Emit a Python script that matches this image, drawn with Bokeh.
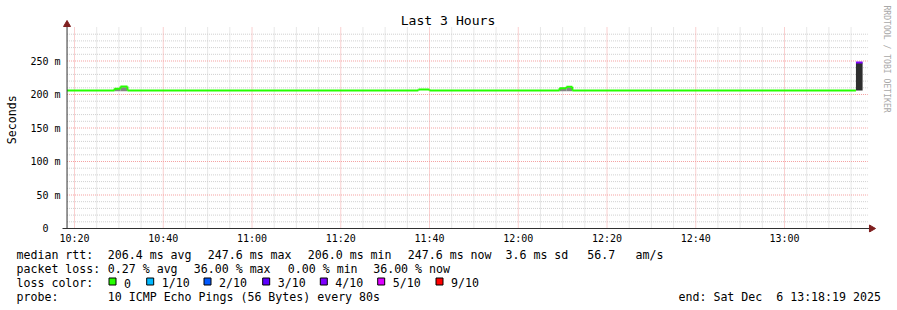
import math
from bokeh.plotting import figure
from bokeh.layouts import column, row
from bokeh.models import Range1d, FixedTicker
from bokeh.core.properties import value
from bokeh.embed import file_html
from bokeh.resources import INLINE

FONT = "DejaVu Sans Mono"

# ---------------- data (time = minutes after 10:00, values in ms) ----------------
window_start = 18.32    # 10:18:19
window_end = 198.32     # 13:18:19
y_top = 300.0

run_start = [18.32, 29.0, 30.35, 31.95, 97.5, 100.0, 129.3, 130.85, 132.2, 196.1]
run_end = [29.0, 30.35, 31.95, 97.5, 100.0, 129.3, 130.85, 132.2, 196.1, 197.6]
run_median_ms = [206.0, 208.7, 212.0, 206.0, 207.5, 206.0, 209.4, 211.5, 206.0, 247.6]
run_loss_pct = [0, 0, 0, 0, 0, 0, 0, 0, 0, 36.0]

smoke_start = [29.0, 30.35, 129.3, 130.85, 196.1]
smoke_end = [30.35, 31.95, 130.85, 132.2, 197.6]
smoke_lo_ms = [205.0, 205.0, 205.0, 205.0, 206.0]
smoke_hi_ms = [209.5, 211.0, 210.0, 211.0, 247.6]
smoke_loss_pct = [0, 0, 0, 0, 36.0]

x_tick_values = [20, 40, 60, 80, 100, 120, 140, 160, 180]
x_tick_labels = ["10:20", "10:40", "11:00", "11:20", "11:40", "12:00", "12:20", "12:40", "13:00"]
y_tick_values = [0, 50, 100, 150, 200, 250]
y_tick_labels = ["0\u00a0\u00a0", "50 m", "100 m", "150 m", "200 m", "250 m"]

pings = 10
loss_levels = [0, 1, 2, 3, 4, 5, 9]
loss_labels = ["0", "1/10", "2/10", "3/10", "4/10", "5/10", "9/10"]
loss_colors = ["#26ff00", "#00b8ff", "#0059ff", "#5e00ff", "#7e00ff", "#dd00ff", "#ff0000"]

median_avg, median_max, median_min, median_now, median_sd, median_ams = 206.4, 247.6, 206.0, 247.6, 3.6, 56.7
loss_avg, loss_max, loss_min, loss_now = 0.27, 36.00, 0.00, 36.00
probe_text = "10 ICMP Echo Pings (56 Bytes) every 80s"
end_text = "end: Sat Dec \u00a06 13:18:19 2025"
title_text = "Last 3 Hours"
y_label = "Seconds"
watermark = "RRDTOOL / TOBI OETIKER"


def loss_color(pct):
    lost = pct / 100.0 * pings
    for lvl, col in zip(loss_levels, loss_colors):
        if lost <= lvl:
            return col
    return loss_colors[-1]


# ---------------- layout (canvas pixels) ----------------
W, H = 897, 310
STRIP_W = 20                 # left strip holding the y label
FL, FR, FT, FB = 61, 897, 0, 232   # main frame edges (canvas px)
MAIN_H = 246
LEG_H = H - MAIN_H
PX_PER_MIN = 4.4375
X0PX = 74.0                  # pixel of 10:20
Y0PX = 228.0                 # pixel of 0 ms
PX_PER_MS = 0.67


def mx(px):
    return 20 + (px - X0PX) / PX_PER_MIN


def my(py):
    return (Y0PX - py) / PX_PER_MS


def blank(fig):
    fig.background_fill_color = "white"
    fig.border_fill_color = "white"
    fig.outline_line_color = None
    fig.grid.visible = False


# ---------------- main chart ----------------
p = figure(width=W - STRIP_W, height=MAIN_H, output_backend="svg", toolbar_location=None, title=None,
           x_range=Range1d(mx(FL), mx(FR)), y_range=Range1d(my(FB), my(FT)),
           min_border_left=FL - STRIP_W, min_border_right=0, min_border_top=0,
           min_border_bottom=MAIN_H - FB)
blank(p)

for ax in (p.xaxis[0], p.yaxis[0]):
    ax.axis_line_color = None
    ax.major_tick_line_color = None
    ax.minor_tick_line_color = None
    ax.major_tick_in = 0
    ax.major_tick_out = 0
    ax.major_label_text_font = FONT
    ax.major_label_text_font_size = "10px"
    ax.major_label_text_color = "black"

p.xaxis.ticker = FixedTicker(ticks=x_tick_values)
p.xaxis.major_label_overrides = {v: s for v, s in zip(x_tick_values, x_tick_labels)}
p.xaxis.major_label_standoff = 0
p.yaxis.ticker = FixedTicker(ticks=y_tick_values)
p.yaxis.major_label_overrides = {v: s for v, s in zip(y_tick_values, y_tick_labels)}
p.yaxis.major_label_standoff = 1

# grid
grid_right = window_end + 2 / PX_PER_MIN
minor_x = [m for m in range(20, 200, 5) if m not in x_tick_values and m < window_end]
minor_y = [v for v in range(10, 300, 10) if v % 50 != 0]
major_y = [v for v in range(50, 300, 50)]
GRID_C, MGRID_C = "#cfcfcf", "#f4a0a0"
p.segment(x0=minor_x, x1=minor_x, y0=[0] * len(minor_x), y1=[y_top] * len(minor_x),
          line_color=GRID_C, line_width=1, line_dash="1 1")
p.segment(x0=[window_start] * len(minor_y), x1=[grid_right] * len(minor_y), y0=minor_y, y1=minor_y,
          line_color=GRID_C, line_width=1, line_dash="1 1")
p.segment(x0=x_tick_values, x1=x_tick_values, y0=[0] * len(x_tick_values), y1=[y_top] * len(x_tick_values),
          line_color=MGRID_C, line_width=1, line_dash="1 1")
p.segment(x0=[window_start] * len(major_y), x1=[grid_right] * len(major_y), y0=major_y, y1=major_y,
          line_color=MGRID_C, line_width=1, line_dash="1 1")

# smoke
smoke_colors = ["#2e2e2e" if l > 0 else "#858585" for l in smoke_loss_pct]
p.quad(left=smoke_start, right=smoke_end, bottom=smoke_lo_ms, top=smoke_hi_ms,
       fill_color=smoke_colors, line_color=None)

# median line
run_colors = [loss_color(l) for l in run_loss_pct]
p.segment(x0=run_start, x1=run_end, y0=run_median_ms, y1=run_median_ms,
          line_color=run_colors, line_width=2)
cx0, cy0, cy1, cc = [], [], [], []
for i in range(len(run_start) - 1):
    if run_colors[i] == run_colors[i + 1] and run_median_ms[i] != run_median_ms[i + 1]:
        cx0.append(run_end[i]); cy0.append(run_median_ms[i]); cy1.append(run_median_ms[i + 1]); cc.append(run_colors[i])
p.segment(x0=cx0, x1=cx0, y0=cy0, y1=cy1, line_color=cc, line_width=2)

# axis lines + arrows
p.segment(x0=[mx(62), window_start], x1=[mx(870), window_start], y0=[0, 0], y1=[0, my(22)],
          line_color="#303030", line_width=1)
p.scatter(x=[window_start], y=[my(24)], marker="triangle", size=7,
          fill_color="#7f1f1f", line_color="#7f1f1f")
p.scatter(x=[mx(871)], y=[0], marker="triangle", size=7, angle=-math.pi / 2,
          fill_color="#7f1f1f", line_color="#7f1f1f")

# title and watermark (inside the main frame)
p.text(x=[mx(447.5)], y=[my(19.5)], text=[title_text], text_font=value(FONT), text_font_size="13.1px",
       text_align="center", text_baseline="middle", text_color="black")
p.text(x=[mx(886)], y=[my(5)], text=[watermark], text_font=value(FONT), text_font_size="8.1px",
       text_align="left", text_baseline="middle", text_color="#a8a8a8", angle=-math.pi / 2)

# ---------------- left strip (y axis title) ----------------
s = figure(width=STRIP_W, height=MAIN_H, output_backend="svg", toolbar_location=None, title=None,
           x_range=Range1d(0, STRIP_W), y_range=Range1d(0, MAIN_H),
           x_axis_location=None, y_axis_location=None,
           min_border_left=0, min_border_right=0, min_border_top=0, min_border_bottom=0)
blank(s)
s.text(x=[11], y=[MAIN_H - 126.5], text=[y_label], text_font=value(FONT), text_font_size="11.6px",
       text_align="center", text_baseline="middle", text_color="black", angle=math.pi / 2)

# ---------------- legend area ----------------
g = figure(width=W, height=LEG_H, output_backend="svg", toolbar_location=None, title=None,
           x_range=Range1d(0, W), y_range=Range1d(0, LEG_H),
           x_axis_location=None, y_axis_location=None,
           min_border_left=0, min_border_right=0, min_border_top=0, min_border_bottom=0)
blank(g)


def gy(py):
    return H - py


lx, ly, lt = [], [], []


def lab(x, y, text):
    lx.append(x); ly.append(gy(y)); lt.append(text)


r1, r2, r3, r4 = 254.3, 268.0, 282.5, 296.0
lab(16, r1, "median rtt:")
lab(107.3, r1, f"{median_avg:.1f} ms avg")
lab(207.3, r1, f"{median_max:.1f} ms max")
lab(307.3, r1, f"{median_min:.1f} ms min")
lab(407.3, r1, f"{median_now:.1f} ms now")
lab(505, r1, f"{median_sd:.1f} ms sd")
lab(586.7, r1, f"{median_ams:.1f}")
lab(635, r1, "am/s")

lab(16, r2, "packet loss:")
lab(107.3, r2, f"{loss_avg:.2f} % avg")
lab(193.3, r2, f"{loss_max:.2f} % max")
lab(287.3, r2, f"{loss_min:.2f} % min")
lab(372.7, r2, f"{loss_now:.2f} % now")

lab(16, r3, "loss color:")
sw_x = [108, 145.7, 203, 261.7, 319.3, 376.7, 435]
for sx, txt in zip(sw_x, loss_labels):
    lab(sx + 15.5, r3, txt)
g.quad(left=[x + 0.5 for x in sw_x], right=[x + 7.5 for x in sw_x],
       bottom=[gy(284.5)] * len(sw_x), top=[gy(277.5)] * len(sw_x),
       fill_color=loss_colors, line_color="black", line_width=1)

lab(16, r4, "probe:")
lab(107.3, r4, probe_text)
lab(678, r4, end_text)

g.text(x=lx, y=ly, text=lt, text_font=value(FONT), text_font_size="11.6px",
       text_align="left", text_baseline="alphabetic", text_color="black")

layout = column(row(s, p, spacing=0), g, spacing=0)
open("out.html", "w").write(file_html(layout, INLINE))
